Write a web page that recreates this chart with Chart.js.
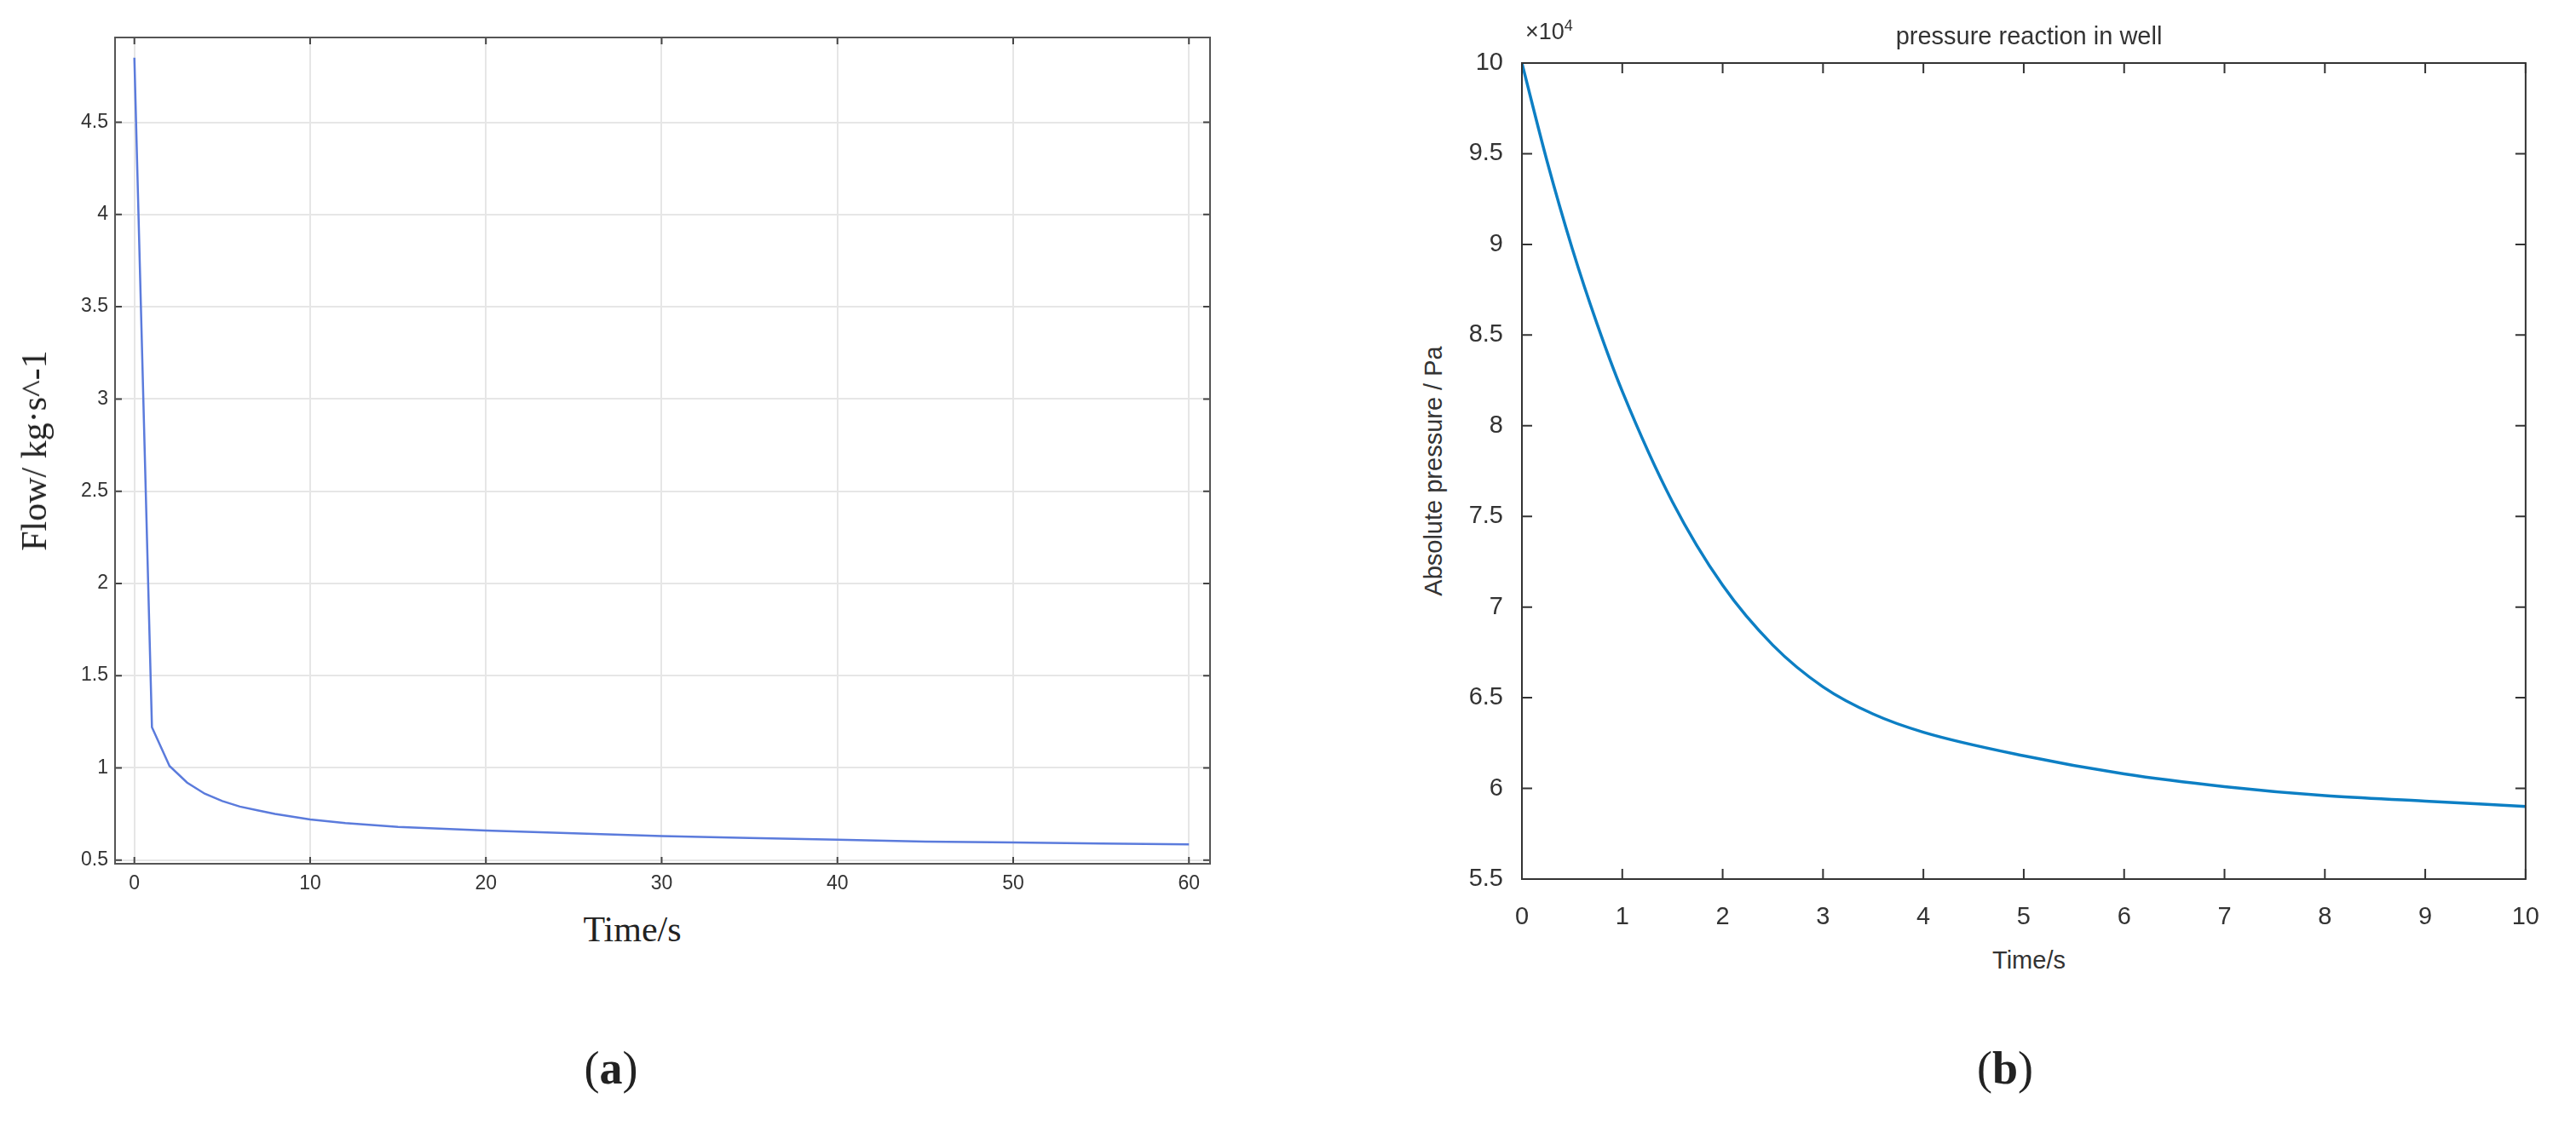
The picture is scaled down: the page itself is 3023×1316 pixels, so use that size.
<!DOCTYPE html>
<html lang="en">
<head>
<meta charset="UTF-8">
<title>Flow and pressure reaction</title>
<script src="https://cdn.jsdelivr.net/npm/chart.js@4.4.0/dist/chart.umd.min.js"></script>
<style>
    body { margin: 0; width: 3023px; height: 1316px; background: #fff; position: relative; overflow: hidden; }
    canvas { position: absolute; }
    .lbl { position: absolute; white-space: nowrap; color: #222; }
    .serif { font-family: "Liberation Serif", "DejaVu Serif", serif; }
    .sans { font-family: "Liberation Sans", Arial, sans-serif; color: #333; }
</style>
</head>
<body>
<canvas id="flowChart" style="left:0;top:0;width:1440px;height:1060px"></canvas>
<canvas id="pressureChart" style="left:1700px;top:0;width:1300px;height:1100px"></canvas>

<div class="lbl serif" style="left:40px;top:529px;font-size:42px;transform:translate(-50%,-50%) rotate(-90deg)">Flow/ kg·s^-1</div>
<div class="lbl serif" style="left:742px;top:1091px;font-size:42px;transform:translate(-50%,-50%)">Time/s</div>
<div class="lbl serif" style="left:717px;top:1254px;font-size:54px;transform:translate(-50%,-50%)">(<b>a</b>)</div>

<div class="lbl sans" style="left:2381px;top:42px;font-size:29px;transform:translate(-50%,-50%)">pressure reaction in well</div>
<div class="lbl sans" style="left:1790px;top:36px;font-size:27px;transform:translateY(-50%)">×10<sup style="font-size:18px">4</sup></div>
<div class="lbl sans" style="left:2381px;top:1127px;font-size:29px;transform:translate(-50%,-50%)">Time/s</div>
<div class="lbl sans" style="left:1682px;top:553px;font-size:29px;transform:translate(-50%,-50%) rotate(-90deg)">Absolute pressure / Pa</div>
<div class="lbl serif" style="left:2353px;top:1254px;font-size:54px;transform:translate(-50%,-50%)">(<b>b</b>)</div>

<script>
    // (a) flow vs time
    const flowTime = [0, 1, 2, 3, 4, 5, 6, 7, 8, 10, 12, 15, 20, 25, 30, 35, 40, 45, 50, 55, 60];
    const flowValues = [4.85, 1.22, 1.01, 0.92, 0.86, 0.82, 0.79, 0.77, 0.75, 0.72, 0.70, 0.68, 0.66, 0.645, 0.63, 0.62, 0.61, 0.60, 0.595, 0.59, 0.585];
    const flowXTicks = [0, 10, 20, 30, 40, 50, 60];
    const flowYTicks = [0.5, 1, 1.5, 2, 2.5, 3, 3.5, 4, 4.5];

    // (b) pressure vs time, Pa
    const pressTime = [0, 0.25, 0.5, 0.75, 1, 1.5, 2, 2.5, 3, 3.5, 4, 5, 6, 7, 8, 9, 10];
    const pressValues = [100000, 94600, 89800, 85600, 81900, 75800, 71200, 67900, 65600, 64100, 63100, 61800, 60800, 60100, 59600, 59300, 59000];
    const pressXTicks = [0, 1, 2, 3, 4, 5, 6, 7, 8, 9, 10];
    const pressYTicks = [55000, 60000, 65000, 70000, 75000, 80000, 85000, 90000, 95000, 100000];

    const toPoints = (xs, ys) => xs.map((x, i) => ({ x: x, y: ys[i] }));

    // inward tick marks and box, drawn from the chart's own scales
    const boxTicks = {
        id: 'boxTicks',
        afterDatasetsDraw(chart, args, opts) {
            const { ctx, chartArea: a, scales } = chart;
            ctx.save();
            ctx.strokeStyle = opts.color || '#333';
            ctx.lineWidth = 2;
            ctx.beginPath();
            opts.xTicks.forEach(v => {
                const px = scales.x.getPixelForValue(v);
                ctx.moveTo(px, a.bottom); ctx.lineTo(px, a.bottom - opts.len);
                ctx.moveTo(px, a.top); ctx.lineTo(px, a.top + opts.len);
            });
            opts.yTicks.forEach(v => {
                const py = scales.y.getPixelForValue(v);
                ctx.moveTo(a.left, py); ctx.lineTo(a.left + opts.len, py);
                ctx.moveTo(a.right, py); ctx.lineTo(a.right - opts.len, py);
            });
            ctx.stroke();
            ctx.strokeStyle = opts.boxColor || '#333';
            ctx.strokeRect(a.left, a.top, a.right - a.left, a.bottom - a.top);
            ctx.restore();
        }
    };

    function fixed(size, prop) {
        return scale => { scale[prop] = size; };
    }

    new Chart(document.getElementById('flowChart'), {
        type: 'scatter',
        data: { datasets: [{
            data: toPoints(flowTime, flowValues),
            showLine: true, borderColor: '#5b7bdc', borderWidth: 2.5, pointRadius: 0, tension: 0
        }] },
        options: {
            responsive: false, animation: false,
            devicePixelRatio: 1,
            layout: { padding: { top: 44, right: 20, left: 0, bottom: 0 } },
            plugins: { legend: { display: false }, tooltip: { enabled: false },
                boxTicks: { xTicks: flowXTicks, yTicks: flowYTicks, len: 8, color: '#444', boxColor: '#555' } },
            scales: {
                x: {
                    type: 'linear', min: -1.1, max: 61.2,
                    afterFit: fixed(46, 'height'),
                    afterBuildTicks: s => { s.ticks = flowXTicks.map(v => ({ value: v })); },
                    grid: { color: '#e6e6e6', lineWidth: 2, drawTicks: false },
                    border: { display: false },
                    ticks: { color: '#333', font: { family: 'Liberation Sans', size: 23 }, padding: 10 }
                },
                y: {
                    min: 0.48, max: 4.96,
                    afterFit: fixed(135, 'width'),
                    afterBuildTicks: s => { s.ticks = flowYTicks.map(v => ({ value: v })); },
                    grid: { color: '#e6e6e6', lineWidth: 2, drawTicks: false },
                    border: { display: false },
                    ticks: { color: '#333', font: { family: 'Liberation Sans', size: 23 }, padding: 8,
                        callback: v => String(v) }
                }
            }
        },
        plugins: [boxTicks]
    });

    new Chart(document.getElementById('pressureChart'), {
        type: 'scatter',
        data: { datasets: [{
            data: toPoints(pressTime, pressValues),
            showLine: true, borderColor: '#0d7fc4', borderWidth: 3.5, pointRadius: 0, cubicInterpolationMode: 'monotone'
        }] },
        options: {
            responsive: false, animation: false,
            devicePixelRatio: 1,
            layout: { padding: { top: 74, right: 23, left: 0, bottom: 0 } },
            plugins: { legend: { display: false }, tooltip: { enabled: false },
                boxTicks: { xTicks: pressXTicks, yTicks: pressYTicks, len: 12, color: '#333', boxColor: '#333' } },
            scales: {
                x: {
                    type: 'linear', min: 0, max: 10,
                    afterFit: fixed(68, 'height'),
                    afterBuildTicks: s => { s.ticks = pressXTicks.map(v => ({ value: v })); },
                    grid: { display: false },
                    border: { display: false },
                    ticks: { color: '#333', font: { family: 'Liberation Sans', size: 29 }, padding: 20 }
                },
                y: {
                    min: 55000, max: 100000,
                    afterFit: fixed(86, 'width'),
                    afterBuildTicks: s => { s.ticks = pressYTicks.map(v => ({ value: v })); },
                    grid: { display: false },
                    border: { display: false },
                    ticks: { color: '#333', font: { family: 'Liberation Sans', size: 29 }, padding: 14,
                        callback: v => String(v / 10000) }
                }
            }
        },
        plugins: [boxTicks]
    });
</script>
</body>
</html>
